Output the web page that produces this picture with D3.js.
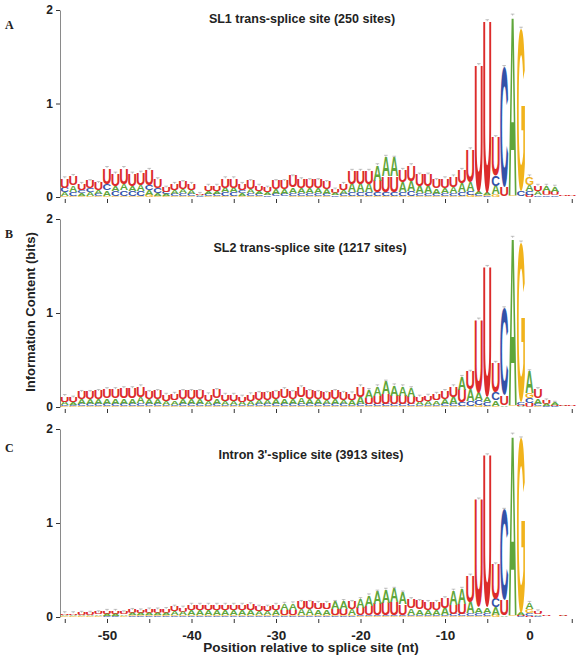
<!DOCTYPE html>
<html><head><meta charset="utf-8">
<script src="https://cdn.jsdelivr.net/npm/d3@7"></script>
<style>body{margin:0;background:#fff} svg{display:block}</style>
</head><body><svg id="chart" width="576" height="657"></svg>
<script>
// Positions relative to splice site (nt)
const positions = [-55,-54,-53,-52,-51,-50,-49,-48,-47,-46,-45,-44,-43,-42,-41,-40,-39,-38,-37,-36,-35,-34,-33,-32,-31,-30,-29,-28,-27,-26,-25,-24,-23,-22,-21,-20,-19,-18,-17,-16,-15,-14,-13,-12,-11,-10,-9,-8,-7,-6,-5,-4,-3,-2,-1,0,1,2,3,4,5];
const xTickValues = [-55,-50,-45,-40,-35,-30,-25,-20,-15,-10,-5,0,5];
const xTickLabels = [-50,-40,-30,-20,-10,0];
const yTickValues = [0,1,2];

// Panel A: SL1 trans-splice site (bits per nucleotide)
const sl1U = [.10,.10,.07,.08,.08,.17,.13,.17,.13,.13, .16,.09,.05,.07,.08,.07,.01,.06,.06,.10, .10,.07,.09,.06,.05,.09,.09,.12,.10,.09, .09,.08,.04,.07,.14,.14,.14,.12,.17,.17, .13,.17,.12,.12,.09,.10,.11,.14,.35,1.35, 1.84,.41,.10,.005,.005,.02,.06,.04,.035,.01,.008];
const sl1A = [.04,.07,.03,.04,.04,.06,.06,.07,.06,.07, .05,.03,.02,.04,.04,.04,.01,.03,.03,.05, .05,.03,.04,.03,.03,.05,.05,.06,.05,.05, .05,.05,.02,.04,.09,.09,.09,.17,.21,.20, .11,.11,.08,.08,.06,.06,.07,.10,.10,.03, .02,.09,.005,1.92,.005,.07,.04,.06,.055,.005,.004];
const sl1C = [.05,.04,.03,.04,.02,.07,.05,.06,.05,.05, .06,.06,.02,.02,.03,.02,.008,.02,.02,.04, .04,.03,.03,.02,.015,.025,.025,.03,.03,.03, .03,.02,.015,.02,.04,.04,.04,.04,.04,.04, .04,.05,.03,.03,.02,.03,.03,.04,.04,.02, .01,.11,1.28,.005,.05,.04,.015,.015,.015,.003,.002];
const sl1G = [.01,.015,.01,.01,.01,.01,.01,.01,.01,.01, .02,.01,.01,.01,.01,.01,.005,.01,.01,.01, .01,.01,.01,.01,.005,.005,.005,.01,.01,.01, .01,.01,.005,.01,.01,.01,.01,.01,.01,.01, .01,.01,.01,.01,.01,.01,.01,.01,.02,.01, .01,.03,.005,.01,1.74,.09,.005,.005,.005,.002,.001];

// Panel B: SL2 trans-splice site
const sl2U = [.06,.05,.08,.08,.09,.10,.10,.105,.105,.11, .08,.09,.065,.07,.09,.09,.09,.07,.09,.065, .065,.055,.07,.075,.075,.08,.10,.08,.11,.09, .08,.075,.09,.075,.07,.11,.07,.085,.105,.09, .09,.08,.055,.06,.07,.085,.11,.13,.19,.78, 1.38,.32,.10,.005,.01,.04,.10,.035,.015,.015,.01];
const sl2A = [.035,.03,.05,.05,.05,.055,.055,.06,.06,.07, .05,.05,.04,.045,.05,.05,.05,.04,.06,.04, .04,.035,.04,.045,.045,.05,.055,.05,.065,.05, .05,.045,.05,.045,.05,.075,.08,.10,.13,.11, .10,.09,.035,.04,.045,.055,.08,.14,.12,.08, .06,.06,.015,1.78,.01,.23,.06,.02,.02,.008,.005];
const sl2C = [.015,.013,.02,.02,.02,.025,.025,.025,.025,.03, .02,.02,.017,.017,.02,.02,.02,.017,.02,.017, .017,.013,.017,.02,.02,.02,.025,.02,.025,.02, .02,.02,.02,.02,.017,.025,.02,.025,.025,.02, .02,.02,.013,.013,.017,.02,.02,.04,.05,.05, .04,.08,.93,.005,.03,.05,.02,.01,.007,.005,.003];
const sl2G = [.007,.007,.01,.01,.01,.01,.01,.01,.01,.01, .01,.01,.008,.008,.01,.01,.01,.008,.01,.008, .008,.007,.008,.01,.01,.01,.01,.01,.01,.01, .01,.01,.01,.01,.008,.01,.01,.01,.01,.01, .01,.01,.007,.007,.008,.01,.01,.01,.015,.02, .01,.01,.005,.01,1.70,.06,.01,.005,.003,.002,.002];

// Panel C: Intron 3'-splice site
const intU = [.018,.018,.02,.02,.022,.03,.03,.022,.035,.032, .038,.038,.04,.05,.045,.06,.06,.06,.06,.06, .06,.06,.065,.05,.05,.06,.055,.055,.075,.075, .07,.07,.065,.07,.075,.08,.10,.12,.13,.135, .115,.10,.09,.085,.085,.105,.10,.11,.28,1.15, 1.62,.37,.16,.005,.01,.015,.03,.01,.005,.012,.005];
const intA = [.012,.012,.013,.013,.015,.02,.02,.015,.023,.022, .025,.025,.028,.04,.037,.05,.05,.05,.05,.05, .05,.05,.05,.042,.042,.05,.065,.07,.065,.065, .06,.06,.075,.08,.065,.09,.11,.13,.14,.145, .125,.07,.06,.055,.055,.075,.15,.16,.12,.06, .06,.08,.015,1.92,.02,.07,.015,.005,.003,.007,.003];
const intC = [.004,.004,.005,.005,.005,.006,.006,.005,.007,.007, .007,.007,.007,.01,.008,.01,.01,.01,.01,.01, .01,.01,.01,.009,.009,.01,.01,.01,.01,.01, .01,.01,.01,.01,.01,.012,.012,.012,.012,.012, .012,.012,.012,.012,.012,.012,.02,.02,.03,.03, .03,.09,.96,.005,.01,.025,.01,.003,.001,.004,.001];
const intG = [.006,.006,.007,.007,.008,.009,.009,.008,.01,.009, .01,.01,.01,.01,.01,.01,.01,.01,.01,.01, .01,.01,.01,.009,.009,.01,.01,.01,.01,.01, .01,.01,.01,.01,.01,.008,.008,.008,.008,.008, .008,.008,.008,.008,.008,.008,.01,.01,.01,.01, .01,.02,.005,.01,1.86,.04,.005,.002,.001,.002,.001];

const panelLabels = ["A","B","C"];
const panelTitles = ["SL1 trans-splice site (250 sites)", "SL2 trans-splice site (1217 sites)", "Intron 3'-splice site (3913 sites)"];

const letters = ["A","C","G","U"];
const colors = {U:"#dc2b2b", A:"#5fa63b", C:"#3452a8", G:"#f1b31c"};

const panels = [
  {label:panelLabels[0], title:panelTitles[0], data:{U:sl1U,A:sl1A,C:sl1C,G:sl1G}, base:197, top:10, titleX:302, titleY:23, labelY:29, showX:false},
  {label:panelLabels[1], title:panelTitles[1], data:{U:sl2U,A:sl2A,C:sl2C,G:sl2G}, base:407, top:219, titleX:310, titleY:252, labelY:238, showX:false},
  {label:panelLabels[2], title:panelTitles[2], data:{U:intU,A:intA,C:intC,G:intG}, base:617, top:429, titleX:311, titleY:459, labelY:452, showX:true}
];

const svg = d3.select("#chart");
const x = d3.scaleLinear().domain([-50, 0]).range([107, 529.5]);
const colW = x(1) - x(0);

const FONT = "'Liberation Sans', Arial, Helvetica, sans-serif";
const cv = document.createElement("canvas").getContext("2d");
cv.font = "bold 100px " + FONT;
const ink = {};
letters.forEach(l => {
  const m = cv.measureText(l);
  ink[l] = {l:m.actualBoundingBoxLeft, r:m.actualBoundingBoxRight, a:m.actualBoundingBoxAscent, d:m.actualBoundingBoxDescent};
});

panels.forEach(p => {
  const y = d3.scaleLinear().domain([0, 2]).range([p.base, p.top]);
  const g = svg.append("g");

  // y axis
  const ya = g.append("g").attr("transform", "translate(60,0)")
    .call(d3.axisLeft(y).tickValues(yTickValues).tickFormat(d => String(d)).tickSize(4).tickSizeOuter(0).tickPadding(3));
  ya.select(".domain").attr("stroke", "#8a8a8a").attr("stroke-width", 1);
  ya.selectAll(".tick line").attr("stroke", "#333");
  ya.selectAll("text").attr("font-family", FONT).attr("font-weight", "bold").attr("font-size", 12).attr("fill", "#222");

  // x axis
  const xa = g.append("g").attr("transform", `translate(0,${p.base + 2})`)
    .call(d3.axisBottom(x).tickValues(xTickValues).tickSize(4).tickSizeOuter(0).tickPadding(7)
      .tickFormat(d => (p.showX && xTickLabels.includes(d)) ? String(d) : ""));
  xa.select(".domain").remove();
  xa.selectAll(".tick line").attr("stroke", "#333");
  xa.selectAll("text").filter(function() { return this.textContent === ""; }).remove();
  xa.selectAll("text").attr("font-family", FONT).attr("font-weight", "bold").attr("font-size", 13.5).attr("fill", "#222");

  // logo stacks
  const stacks = g.append("g");
  positions.forEach((pos, i) => {
    const items = letters.map(l => ({l, v: p.data[l][i]})).sort((a, b) => a.v - b.v);
    let cum = 0;
    const w = colW * 0.94;
    const x0 = x(pos) - w / 2;
    items.forEach(it => {
      const yb = y(cum), yt = y(cum + it.v);
      const h = yb - yt;
      cum += it.v;
      if (h < 0.4) return;
      const k = ink[it.l];
      const sx = w / (k.l + k.r), sy = h / (k.a + k.d);
      stacks.append("text").text(it.l)
        .attr("font-family", FONT).attr("font-weight", "bold").attr("font-size", 100)
        .attr("fill", colors[it.l])
        .attr("transform", `translate(${x0},${yb}) scale(${sx},${sy}) translate(${k.l},${-k.d})`);
    });
    // small error bar cap on top of each stack
    const top = y(cum);
    if (cum > 0.03) {
      stacks.append("line").attr("x1", x(pos)).attr("x2", x(pos)).attr("y1", top).attr("y2", top - 1.5)
        .attr("stroke", "#9a9a9a").attr("stroke-width", 0.6);
      stacks.append("line").attr("x1", x(pos) - 1.8).attr("x2", x(pos) + 1.8).attr("y1", top - 1.5).attr("y2", top - 1.5)
        .attr("stroke", "#9a9a9a").attr("stroke-width", 0.6);
    }
  });

  // title
  g.append("text").attr("x", p.titleX).attr("y", p.titleY).attr("text-anchor", "middle")
    .attr("font-family", FONT).attr("font-weight", "bold").attr("font-size", 12.5).attr("fill", "#222")
    .text(p.title);
  // panel letter
  g.append("text").attr("x", 5).attr("y", p.labelY)
    .attr("font-family", "'Liberation Serif', 'DejaVu Serif', serif").attr("font-weight", "bold").attr("font-size", 12).attr("fill", "#222")
    .text(p.label);
});

// axis titles
svg.append("text").attr("x", 311).attr("y", 652).attr("text-anchor", "middle")
  .attr("font-family", FONT).attr("font-weight", "bold").attr("font-size", 13.5).attr("fill", "#222")
  .text("Position relative to splice site (nt)");
svg.append("text").attr("transform", "translate(35,312) rotate(-90)").attr("text-anchor", "middle")
  .attr("font-family", FONT).attr("font-weight", "bold").attr("font-size", 13).attr("fill", "#222")
  .text("Information Content (bits)");
</script>
</body></html>
